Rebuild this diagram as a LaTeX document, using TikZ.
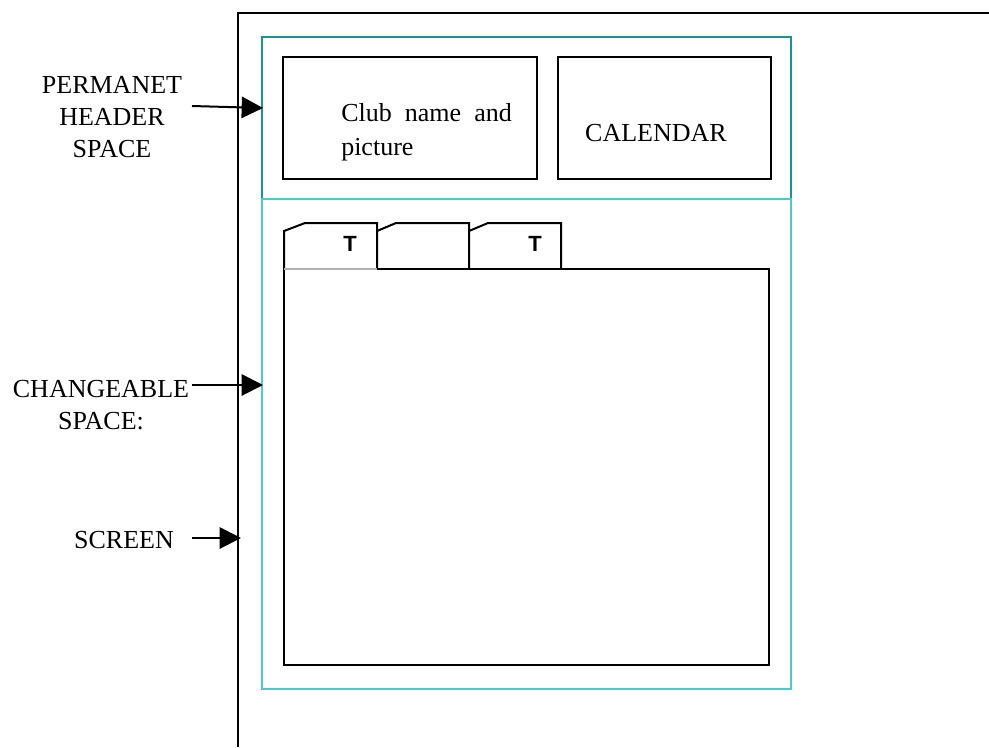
\documentclass[tikz,border=0pt]{standalone}
\usepackage{fontspec}
\setmainfont{Liberation Serif}
\newfontfamily\tabfont{Liberation Sans}
\usetikzlibrary{arrows.meta}
\definecolor{hdrteal}{RGB}{20,150,150}
\definecolor{chgcyan}{RGB}{70,205,205}
\tikzset{
  blk/.style={draw=black, line width=1.5pt},
  lbl/.style={font=\fontsize{19.5pt}{24pt}\selectfont, align=center, inner sep=0pt},
  ptr/.style={line width=1.5pt, -{Triangle[length=16pt,width=16pt]}},
  tabt/.style={font=\tabfont\bfseries\fontsize{16.5pt}{18pt}\selectfont, inner sep=0pt},
}
\begin{document}
\begin{tikzpicture}[x=0.75pt,y=-0.75pt]
\useasboundingbox (0,0) rectangle (989,747);
% screen
\draw[blk] (989,13) -- (238,13) -- (238,747);
% header region
\draw[draw=hdrteal, line width=1.5pt] (262,37) rectangle (791,199);
% changeable region
\draw[draw=chgcyan, line width=1.5pt] (262,199) rectangle (791,689);
% header boxes
\draw[blk] (283,57) rectangle (537,179);
\draw[blk] (558,57) rectangle (771,179);
\node[inner sep=0pt, anchor=north west] (club) at (341,103) {\fontsize{19.5pt}{25.5pt}\selectfont\parbox{128pt}{Club\hfill name\hfill and\\picture}};
\node[lbl, anchor=base] (cal) at (656,141) {CALENDAR};
% tabs
\draw[blk] (284,269) -- (284,231) -- (305,223) -- (377,223) -- (377,269);
\draw[blk] (377,231) -- (396,223) -- (469,223) -- (469,269);
\draw[blk] (469,231) -- (488,223) -- (561,223) -- (561,269);
\node[tabt] (t1) at (350,244) {T};
\node[tabt] (t3) at (535,244) {T};
% content box
\draw[blk] (377,269) -- (769,269) -- (769,665) -- (284,665) -- (284,269);
\draw[draw=black!30, line width=1pt] (284,269) -- (377,269);
% labels
\node[lbl, anchor=base] (p1) at (112,93) {PERMANET};
\node[lbl, anchor=base] (p2) at (112,125) {HEADER};
\node[lbl, anchor=base] (p3) at (112,157) {SPACE};
\node[lbl, anchor=base] (c1) at (101,397) {CHANGEABLE};
\node[lbl, anchor=base] (c2) at (101,429) {SPACE:};
\node[lbl, anchor=base] (s1) at (124,548) {SCREEN};
\coordinate (ha) at (192,106);
\coordinate (hb) at (263,108);
\coordinate (ca) at (192,385);
\coordinate (cb) at (263,385);
\coordinate (sa) at (192,538);
\coordinate (sb) at (241,538);
\draw[ptr] (ha) -- (hb);
\draw[ptr] (ca) -- (cb);
\draw[ptr] (sa) -- (sb);
\end{tikzpicture}
\end{document}
